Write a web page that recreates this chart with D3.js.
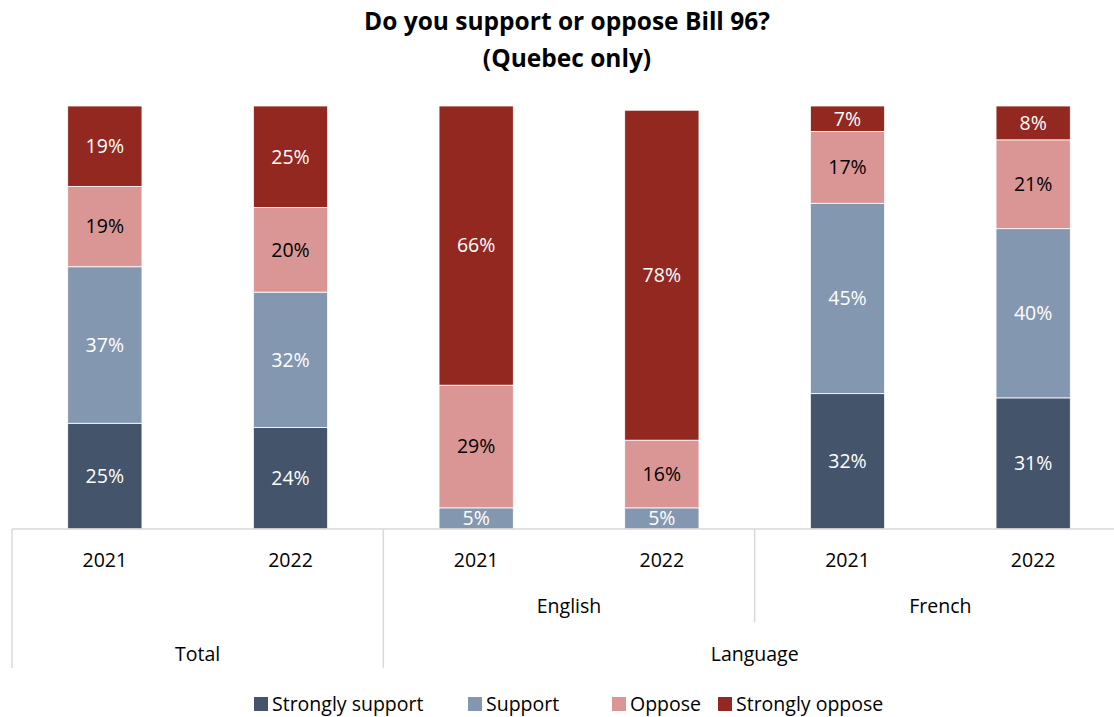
<!DOCTYPE html>
<html>
<head>
<meta charset="utf-8">
<script src="https://cdn.jsdelivr.net/npm/d3@7"></script>
<style>
  html, body { margin: 0; padding: 0; background: #fff; }
  svg { display: block; font-family: "Open Sans", Lato, sans-serif; }
</style>
</head>
<body>
<svg id="chart" width="1114" height="717"></svg>
<script>
// Survey results: support for Bill 96 among Quebec respondents
const years = ["2021", "2022", "2021", "2022", "2021", "2022"];
const subgroups = ["", "", "English", "English", "French", "French"];
const groups = ["Total", "Total", "Language", "Language", "Language", "Language"];
const seriesNames = ["Strongly support", "Support", "Oppose", "Strongly oppose"];
const stronglySupport = [25, 24, 0, 0, 32, 31];
const support = [37, 32, 5, 5, 45, 40];
const oppose = [19, 20, 29, 16, 17, 21];
const stronglyOppose = [19, 25, 66, 78, 7, 8];
const colors = ["#44546A", "#8497B0", "#DA9694", "#922820"];
const labelColors = ["#fff", "#fff", "#000", "#fff"];

const rows = years.map((yr, i) => ({
  key: i,
  "Strongly support": stronglySupport[i],
  "Support": support[i],
  "Oppose": oppose[i],
  "Strongly oppose": stronglyOppose[i]
}));

const svg = d3.select("#chart");
const plotLeft = 12, plotRight = 1126, plotTop = 106, plotBase = 529;

const x = d3.scaleBand().domain(d3.range(years.length)).range([plotLeft, plotRight])
  .paddingInner(0.6).paddingOuter(0.3);
// Axis tops out at 100%; rounded totals of 101% are held at the top of the plot
const y = d3.scaleLinear().domain([0, 100]).range([plotBase, plotTop]).clamp(true);

// Title
const title = svg.append("text").attr("x", 567).attr("text-anchor", "middle")
  .attr("font-weight", "bold").attr("font-size", 24.5).attr("fill", "#000");
title.append("tspan").attr("x", 567).attr("y", 30).text("Do you support or oppose Bill 96?");
title.append("tspan").attr("x", 567).attr("y", 67).text("(Quebec only)");

// Stacked bars
const stacked = d3.stack().keys(seriesNames)(rows);
const layer = svg.append("g").selectAll("g").data(stacked).join("g")
  .attr("fill", (d, i) => colors[i]);
layer.selectAll("rect").data(d => d.filter(s => s[1] - s[0] > 0)).join("rect")
  .attr("x", d => x(d.data.key))
  .attr("width", x.bandwidth())
  .attr("y", d => y(d[1]))
  .attr("height", d => y(d[0]) - y(d[1]))
  .attr("stroke", "#fff").attr("stroke-width", 0.8);

// Data labels
stacked.forEach((s, si) => {
  svg.append("g").selectAll("text").data(s.filter(d => d[1] - d[0] > 0)).join("text")
    .attr("x", d => x(d.data.key) + x.bandwidth() / 2)
    .attr("y", d => (y(d[0]) + y(d[1])) / 2)
    .attr("dy", "0.35em")
    .attr("text-anchor", "middle")
    .attr("font-size", 19.5)
    .attr("fill", labelColors[si])
    .text(d => (d[1] - d[0]) + "%");
});

// Category axis (multi-level)
const axis = svg.append("g").attr("stroke", "#d9d9d9").attr("stroke-width", 1.5);
axis.append("line").attr("x1", plotLeft).attr("x2", plotRight).attr("y1", plotBase).attr("y2", plotBase);
const step = x.step();
const edge = i => plotLeft + i * step;
axis.append("line").attr("x1", edge(0)).attr("x2", edge(0)).attr("y1", plotBase).attr("y2", 668);
axis.append("line").attr("x1", edge(2)).attr("x2", edge(2)).attr("y1", plotBase).attr("y2", 668);
axis.append("line").attr("x1", edge(4)).attr("x2", edge(4)).attr("y1", plotBase).attr("y2", 622);

const axisText = svg.append("g").attr("font-size", 19.5).attr("fill", "#000").attr("text-anchor", "middle");
axisText.selectAll("text.year").data(years).join("text").attr("class", "year")
  .attr("x", (d, i) => x(i) + x.bandwidth() / 2).attr("y", 567).text(d => d);

const subSpans = [{ name: subgroups[2], a: 2, b: 4 }, { name: subgroups[4], a: 4, b: 6 }];
axisText.selectAll("text.sub").data(subSpans).join("text").attr("class", "sub")
  .attr("x", d => (edge(d.a) + edge(d.b)) / 2).attr("y", 613).text(d => d.name);

const groupSpans = [{ name: groups[0], a: 0, b: 2 }, { name: groups[2], a: 2, b: 6 }];
axisText.selectAll("text.grp").data(groupSpans).join("text").attr("class", "grp")
  .attr("x", d => (edge(d.a) + edge(d.b)) / 2).attr("y", 661).text(d => d.name);

// Legend
const legendX = [254, 468, 612, 718];
const legend = svg.append("g").selectAll("g").data(seriesNames).join("g")
  .attr("transform", (d, i) => `translate(${legendX[i]},697)`);
legend.append("rect").attr("width", 14).attr("height", 14).attr("fill", (d, i) => colors[i]);
legend.append("text").attr("x", 18).attr("y", 7).attr("dy", "0.36em")
  .attr("font-size", 19.5).attr("fill", "#000").text(d => d);
</script>
</body>
</html>
